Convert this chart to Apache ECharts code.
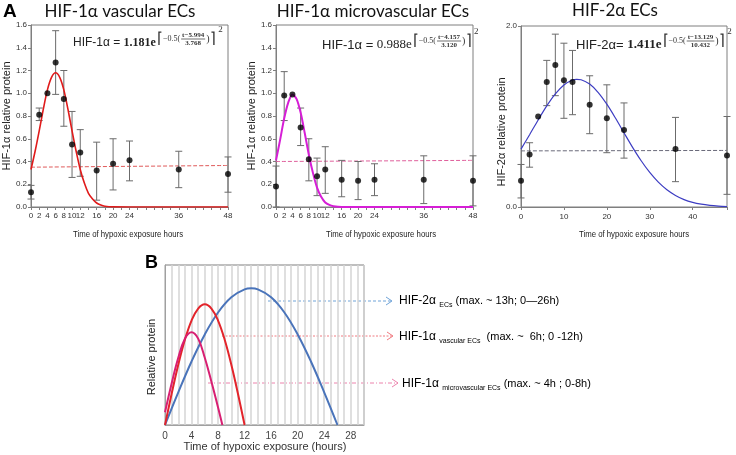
<!DOCTYPE html>
<html><head><meta charset="utf-8">
<script src="https://cdn.jsdelivr.net/npm/echarts@6/dist/echarts.min.js"></script>
<style>html,body{margin:0;padding:0;background:#fff}#c{width:736px;height:455px}</style>
</head><body><div id="c"></div>
<script>
// ---------- DATA ----------
const hours = [0,2,4,6,8,10,12,16,20,24,36,48];
const xTickLabelsA = [0,2,4,6,8,10,12,16,20,24,36,48];

const vascMean = [0.13,0.81,1.00,1.27,0.95,0.55,0.48,0.32,0.38,0.41,0.33,0.29];
const vascLow  = [0.07,0.76,1.00,0.99,0.71,0.26,0.27,0.06,0.15,0.23,0.17,0.13];
const vascHigh = [0.19,0.87,1.00,1.55,1.20,0.84,0.68,0.57,0.60,0.58,0.49,0.44];
const vascFitT = [0,1,2,3,4,5,6,7,8,9,10,11,12,13,14,15,16,17,18,20,24,30,36,42,48];
const vascFitV = [0.33,0.49,0.67,0.86,1.03,1.14,1.18,1.14,1.03,0.86,0.67,0.49,0.33,0.21,0.12,0.07,0.035,0.017,0.007,0.001,0,0,0,0,0];
const vascBaseT = [0,48];
const vascBaseV = [0.35,0.365];

const microMean = [0.18,0.98,0.99,0.70,0.42,0.27,0.33,0.24,0.23,0.24,0.24,0.23];
const microLow  = [0.00,0.76,0.99,0.54,0.23,0.10,0.12,0.09,0.065,0.10,0.03,0.01];
const microHigh = [0.36,1.19,0.99,0.87,0.60,0.43,0.53,0.41,0.40,0.38,0.45,0.45];
const microFitT = [0,1,2,3,4,5,6,7,8,9,10,11,12,13,14,16,20,24,30,36,42,48];
const microFitV = [0.41,0.59,0.78,0.92,0.99,0.95,0.83,0.65,0.46,0.30,0.17,0.09,0.04,0.018,0.007,0,0,0,0,0,0,0];
const microBaseT = [0,48];
const microBaseV = [0.40,0.41];

const hif2Mean = [0.29,0.58,1.00,1.38,1.57,1.40,1.38,1.13,0.98,0.85,0.64,0.57];
const hif2Low  = [0.10,0.44,1.00,1.12,1.23,0.98,1.02,0.81,0.60,0.54,0.28,0.14];
const hif2High = [0.47,0.71,1.00,1.62,1.91,1.81,1.73,1.45,1.35,1.15,0.99,1.00];
const hif2FitT = [0,2,4,6,8,10,12,13,14,16,18,20,22,24,26,28,30,32,34,36,38,40,42,44,46,48];
const hif2FitV = [0.639,0.799,0.962,1.117,1.250,1.349,1.403,1.411,1.406,1.359,1.265,1.136,0.983,0.820,0.659,0.511,0.382,0.275,0.191,0.128,0.082,0.051,0.031,0.018,0.010,0.005];
const hif2BaseT = [0,48];
const hif2BaseV = [0.62,0.625];

// Panel B schematic curves
const bHif2T = [0,2,4,6,8,10,12,13,14,16,18,20,22,24,26];
const bHif2V = [0,0.204,0.397,0.566,0.703,0.798,0.848,0.854,0.848,0.798,0.703,0.566,0.397,0.204,0];
const bVascT = [0,1,2,3,4,5,6,7,8,9,10,11,12];
const bVascV = [0,0.195,0.377,0.533,0.653,0.728,0.754,0.728,0.653,0.533,0.377,0.195,0];
const bMicroT = [0,1,2,3,4,5,6,7,8,8.65];
const bMicroV = [0.08,0.26,0.42,0.54,0.58,0.54,0.42,0.27,0.11,0];
const bTickLabels = [0,4,8,12,16,20,24,28];

// ---------- CHART ----------
const chart = echarts.init(document.getElementById('c'), null, {renderer:'canvas'});
const zip = (a,b) => a.map((v,i)=>[v,b[i]]);
const errData = (l,h) => hours.map((x,i)=>[x,l[i],h[i]]);

const SANS = 'Liberation Sans, Arial, sans-serif';
const axisCol = '#7f7f7f';

function errSeries(idx, l, h){
  return {
    type:'custom', xAxisIndex:idx, yAxisIndex:idx, z:3,
    data: errData(l,h),
    encode:{x:0,y:[1,2]},
    renderItem:function(params, api){
      const x = api.value(0), lo = api.value(1), hi = api.value(2);
      if (hi - lo <= 0) return null;
      const p1 = api.coord([x,lo]), p2 = api.coord([x,hi]);
      const w = 3.5, st = {stroke:'#6b6b6b', lineWidth:1};
      return {type:'group', children:[
        {type:'line', shape:{x1:p1[0],y1:p1[1],x2:p2[0],y2:p2[1]}, style:st},
        {type:'line', shape:{x1:p1[0]-w,y1:p1[1],x2:p1[0]+w,y2:p1[1]}, style:st},
        {type:'line', shape:{x1:p2[0]-w,y1:p2[1],x2:p2[0]+w,y2:p2[1]}, style:st}
      ]};
    }
  };
}
function ptSeries(idx, m){
  return {type:'scatter', xAxisIndex:idx, yAxisIndex:idx, z:4, data:zip(hours,m), symbolSize:6, itemStyle:{color:'#000'}};
}
function lineSeries(idx, t, v, color, w, dashed){
  return {type:'line', xAxisIndex:idx, yAxisIndex:idx, data:zip(t,v), showSymbol:false, smooth:0.3,
    lineStyle:{color:color, width:w, type: dashed ? [4,2] : 'solid'}, z: dashed?2:3, silent:true};
}

const gridA = [
  {left:31, top:25, width:197, height:182},
  {left:276, top:25, width:197, height:182},
  {left:521, top:26, width:206, height:181},
  {left:165, top:265, width:199, height:160}
];
const grids = gridA.map(g=>Object.assign({show:true, borderColor:axisCol, borderWidth:1, containLabel:false}, g));

function xAxisA(idx, labels){
  return {gridIndex:idx, type:'value', min:0, max:48, interval:2,
    axisLine:{lineStyle:{color:axisCol}}, axisTick:{length:3, lineStyle:{color:axisCol}},
    splitLine:{show:false},
    axisLabel:{fontSize:8, color:'#333', fontFamily:SANS, margin:5, formatter:v=>labels.includes(v)?String(v):''}};
}
function yAxisA(idx, max, interval){
  return {gridIndex:idx, type:'value', min:0, max:max, interval:interval,
    axisLine:{show:true, lineStyle:{color:axisCol}}, axisTick:{show:true, length:3, lineStyle:{color:axisCol}},
    splitLine:{show:false},
    axisLabel:{fontSize:8, color:'#333', fontFamily:SANS, margin:4, formatter:v=>v.toFixed(1)}};
}

const xAxes = [
  xAxisA(0, xTickLabelsA),
  xAxisA(1, xTickLabelsA),
  {gridIndex:2, type:'value', min:0, max:48, interval:10,
    axisLine:{lineStyle:{color:axisCol}}, axisTick:{length:3, lineStyle:{color:axisCol}}, splitLine:{show:false},
    axisLabel:{fontSize:8, color:'#333', fontFamily:SANS, margin:6, formatter:v=>(v%10===0)?String(v):''}},
  {gridIndex:3, type:'value', min:0, max:30, interval:1,
    axisLine:{lineStyle:{color:'#a0a0a0'}}, axisTick:{show:false},
    splitLine:{show:true, lineStyle:{color:'#d4d4d4', width:1.5}},
    axisLabel:{fontSize:10, color:'#444', fontFamily:SANS, margin:6, formatter:v=>bTickLabels.includes(v)?String(v):''}}
];
const yAxes = [
  yAxisA(0,1.6,0.2), yAxisA(1,1.6,0.2), yAxisA(2,2.0,2.0),
  {gridIndex:3, type:'value', min:0, max:1, axisLine:{show:true, lineStyle:{color:'#a0a0a0'}},
    axisTick:{show:false}, axisLabel:{show:false}, splitLine:{show:false}}
];

const series = [
  lineSeries(0, vascBaseT, vascBaseV, '#e05a5a', 1, true),
  lineSeries(0, vascFitT, vascFitV, '#e01b1b', 1.6, false),
  errSeries(0, vascLow, vascHigh), ptSeries(0, vascMean),
  lineSeries(1, microBaseT, microBaseV, '#e0609c', 1, true),
  lineSeries(1, microFitT, microFitV, '#d61ed6', 2, false),
  errSeries(1, microLow, microHigh), ptSeries(1, microMean),
  lineSeries(2, hif2BaseT, hif2BaseV, '#6a6a7a', 1, true),
  lineSeries(2, hif2FitT, hif2FitV, '#3d3dc2', 1.2, false),
  errSeries(2, hif2Low, hif2High), ptSeries(2, hif2Mean),
  lineSeries(3, bHif2T, bHif2V, '#4a74ba', 2, false),
  lineSeries(3, bVascT, bVascV, '#e3242b', 2, false),
  lineSeries(3, bMicroT, bMicroV, '#d81f72', 2, false)
];
series.slice(-3).forEach(s=>{s.smooth=0.4;});

// ---------- TEXT / ANNOTATIONS ----------
const mctx = document.createElement('canvas').getContext('2d');
function tw(txt, font){ mctx.font = font; return mctx.measureText(txt).width; }

const G = [];
function txt(x,y,t,opt){
  G.push(Object.assign({type:'text', x:x, y:y, silent:true,
    style:Object.assign({text:t, fill:'#222', font:'12px '+SANS, textAlign:'left', textVerticalAlign:'middle'}, opt||{})}));
}
// panel letters & titles
txt(3,12,'A',{font:'bold 19px '+SANS, fill:'#000'});
txt(145,263,'B',{font:'bold 18px '+SANS, fill:'#000'});
const TF = '17px Lato, "Open Sans", sans-serif';
txt(120,12,'HIF-1α vascular ECs',{font:TF, textAlign:'center', fill:'#111'});
txt(373,12,'HIF-1α microvascular ECs',{font:TF, textAlign:'center', fill:'#111'});
txt(615,11,'HIF-2α ECs',{font:TF, textAlign:'center', fill:'#111'});

// axis names
function rot(x,y,t,font){
  G.push({type:'text', x:x, y:y, rotation:Math.PI/2, silent:true,
    style:{text:t, font:font, fill:'#222', textAlign:'center', textVerticalAlign:'middle'}});
}
rot(7,116,'HIF-1α relative protein','11px '+SANS);
rot(252,116,'HIF-1α relative protein','11px '+SANS);
rot(502,132,'HIF-2α relative protein','11px '+SANS);
rot(152,357,'Relative protein','11px '+SANS);
function xname(x,y,t){
  G.push({type:'text', x:x, y:y, scaleX:0.82, silent:true,
    style:{text:t, font:'9.5px '+SANS, fill:'#222', textAlign:'center', textVerticalAlign:'middle'}});
}
xname(128,234,'Time of hypoxic exposure hours');
xname(381,234,'Time of hypoxic exposure hours');
xname(634,234,'Time of hypoxic exposure hours');
txt(265,447,'Time of hypoxic exposure (hours)',{font:'11px '+SANS, textAlign:'center', fill:'#333'});

// equations
function equation(x, y, pre, coef, bold, num, den, fs){
  const f1 = fs+'px '+SANS;
  const f2 = (bold?'bold ':'')+fs+'px "Liberation Serif", serif';
  txt(x,y,pre,{font:f1});
  let cx = x + tw(pre,f1);
  txt(cx,y,coef+'e',{font:f2});
  cx += tw(coef+'e',f2) + 1;
  const fb = '15px "Liberation Serif", serif';
  txt(cx,y-4,'⌈',{font:fb, fill:'#333'});
  cx += 6;
  const fm = '8px "Liberation Serif", serif';
  txt(cx,y-4,'−0.5(',{font:fm, fill:'#333'});
  cx += tw('−0.5(',fm) + 1;
  const ff = 'bold 7px "Liberation Serif", serif';
  const wn = Math.max(tw(num,ff), tw(den,ff)) + 2;
  txt(cx+wn/2,y-8,num,{font:ff, textAlign:'center', fill:'#333'});
  txt(cx+wn/2,y,den,{font:ff, textAlign:'center', fill:'#333'});
  G.push({type:'line', silent:true, shape:{x1:cx,y1:y-4,x2:cx+wn,y2:y-4}, style:{stroke:'#333', lineWidth:0.7}});
  cx += wn + 1;
  txt(cx,y-4,')',{font:'10px "Liberation Serif", serif', fill:'#333'});
  cx += 4;
  txt(cx,y-4,'⌉',{font:fb, fill:'#333'});
  cx += 8;
  txt(cx,y-13,'2',{font:'9px "Liberation Serif", serif', fill:'#333'});
}
equation(73,43,'HIF-1α = ','1.181',true,'t−5.994','3.768',12);
equation(322,45,'HIF-1α = ','0.988',false,'t−4.157','3.120',13);
equation(576,45,'HIF-2α= ','1.411',true,'t−13.129','10.432',13);

// panel B arrows and labels
function arrow(x1,x2,y,color,dash){
  G.push({type:'line', silent:true, shape:{x1:x1,y1:y,x2:x2,y2:y}, style:{stroke:color, lineWidth:1, lineDash:dash}});
  G.push({type:'polyline', silent:true, shape:{points:[[x2-6,y-4],[x2,y],[x2-6,y+4]]}, style:{stroke:color, lineWidth:1, fill:null}});
}
arrow(268,392,301,'#6fa3d8',[3,2]);
arrow(222,393,336,'#f07a80',[2,1.5]);
arrow(208,398,383,'#ec82ac',[4,2,1,2]);
const rich = {
  a:{fontSize:12, fontFamily:SANS, color:'#222', lineHeight:16, verticalAlign:'middle'},
  s:{fontSize:7, fontFamily:SANS, color:'#222', lineHeight:16, verticalAlign:'bottom', padding:[6,0,0,0]},
  b:{fontSize:11, fontFamily:SANS, color:'#222', lineHeight:16, verticalAlign:'middle'}
};
function lab(x,y,t){
  G.push({type:'text', x:x, y:y, silent:true, style:{text:t, rich:rich, textVerticalAlign:'middle', textAlign:'left'}});
}
lab(399,301,'{a|HIF-2α }{s|ECs}{b| (max. ~ 13h; 0—26h)}');
lab(399,337,'{a|HIF-1α }{s|vascular ECs}{b|  (max. ~  6h; 0 -12h)}');
lab(402,384,'{a|HIF-1α }{s|microvascular ECs}{b| (max. ~ 4h ; 0-8h)}');

chart.setOption({
  animation:false,
  backgroundColor:'#fff',
  grid:grids, xAxis:xAxes, yAxis:yAxes, series:series,
  graphic:{elements:G}
});
</script></body></html>
